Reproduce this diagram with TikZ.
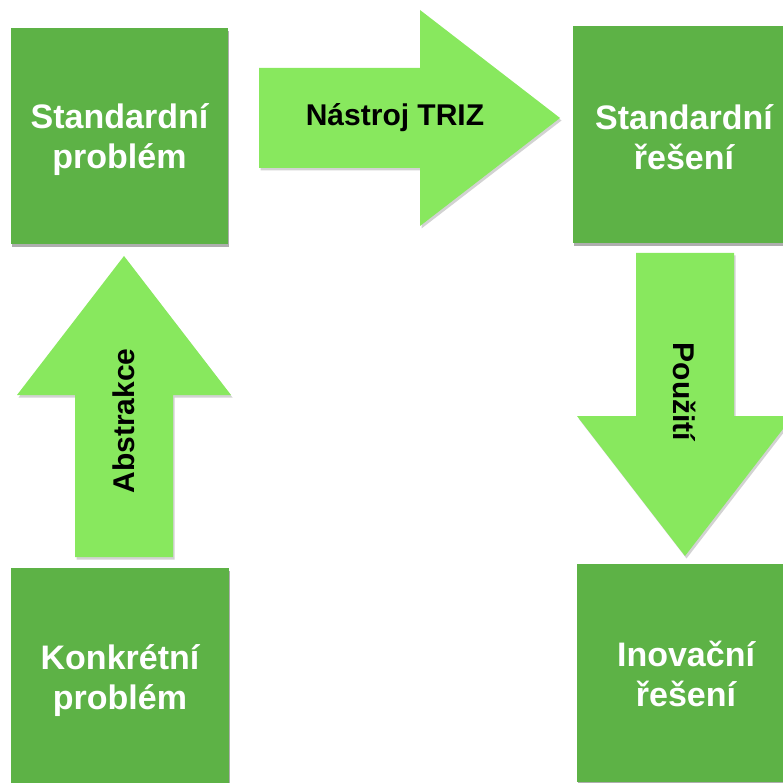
\documentclass[tikz,border=0pt]{standalone}
\usepackage{fontspec}
\setmainfont{Liberation Sans}
\usetikzlibrary{shadows}
\definecolor{boxgreen}{HTML}{5DB246}
\definecolor{arrowgreen}{HTML}{88E85E}
\begin{document}
\begin{tikzpicture}[x=1pt,y=-1pt,
  box/.style={rectangle, fill=boxgreen, inner sep=0pt,
    drop shadow={shadow xshift=1pt, shadow yshift=-3pt, opacity=0.45, fill=black!70}},
  boxtext/.style={text=white, align=center,
    font=\fontsize{34}{40}\selectfont\bfseries, inner sep=0pt},
  blockarrow/.style={fill=arrowgreen,
    drop shadow={shadow xshift=1.5pt, shadow yshift=-2.5pt, opacity=0.25, fill=black!70}},
  arrowtext/.style={text=black, font=\fontsize{30}{34}\selectfont\bfseries, inner sep=0pt}]
  \useasboundingbox (0,0) rectangle (783,783);
  \clip (0,0) rectangle (783,783);

  % the four problem / solution boxes
  \node[box, minimum width=217pt, minimum height=216pt] (sp) at (119.5,136) {};
  \node[box, minimum width=222pt, minimum height=217pt] (sr) at (684,134.5) {};
  \node[box, minimum width=218pt, minimum height=218pt] (kp) at (120,677) {};
  \node[box, minimum width=218pt, minimum height=218pt] (ir) at (686,673) {};

  % box captions
  \node[boxtext] (sptext) at ([yshift=-4pt]sp.center) {Standardní\\problém};
  \node[boxtext] (srtext) at ([yshift=-3pt]sr.center) {Standardní\\řešení};
  \node[boxtext] (kptext) at ([yshift=-4pt]kp.center) {Konkrétní\\problém};
  \node[boxtext] (irtext) at ([yshift=-0.5pt]ir.center) {Inovační\\řešení};

  % block arrows between the boxes
  \fill[blockarrow] (259,68) -- (420,68) -- (420,10) -- (560,118)
    -- (420,226) -- (420,168) -- (259,168) -- cycle;
  \fill[blockarrow] (75,557) -- (75,395) -- (17,395) -- (124,256)
    -- (231,395) -- (173,395) -- (173,557) -- cycle;
  \fill[blockarrow] (636,253) -- (734,253) -- (734,416) -- (793,416)
    -- (685,556) -- (577,416) -- (636,416) -- cycle;

  % arrow labels
  \node[arrowtext] (triz) at (395,118) {Nástroj TRIZ};
  \node[arrowtext, rotate=90] (abs) at (124,421) {Abstrakce};
  \node[arrowtext, rotate=-90] (pou) at (685,392) {Použití};
\end{tikzpicture}
\end{document}
